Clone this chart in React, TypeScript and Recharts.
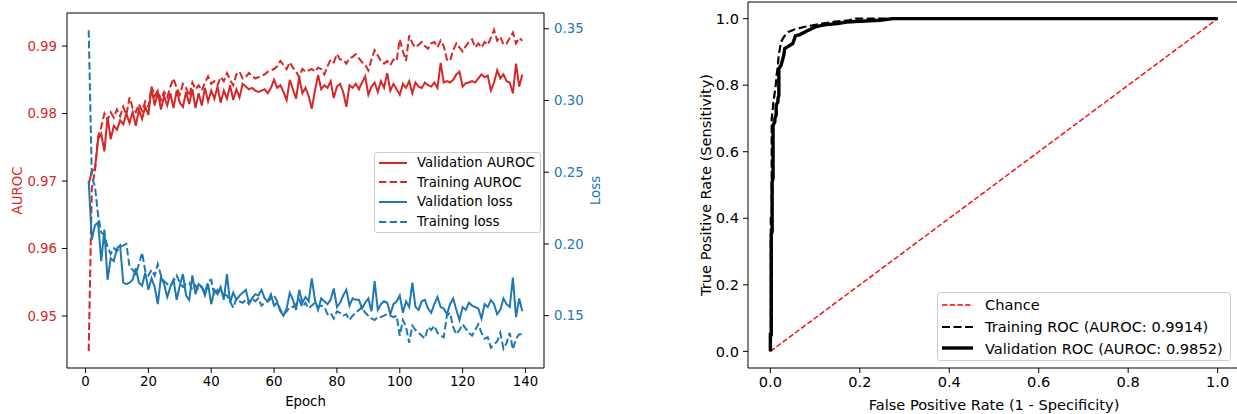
import React from "react";
import { LineChart, Line, XAxis, YAxis, Legend, ReferenceLine } from "recharts";

const RED = "#d62728";
const BLUE = "#1f77b4";
const FONT = "'DejaVu Sans', sans-serif";

// epochs 1..139
const epochs = Array.from({ length: 139 }, (_, i) => i + 1);

const valAuroc = [
  0.9695, 0.9715, 0.9718, 0.9762, 0.977, 0.9744, 0.9795, 0.9762, 0.9782, 0.9776,
  0.979, 0.9784, 0.98, 0.9786, 0.9802, 0.9782, 0.9806, 0.9792, 0.981, 0.9798,
  0.9838, 0.9812, 0.9832, 0.9806, 0.9826, 0.9812, 0.983, 0.9808, 0.9834, 0.9816,
  0.981, 0.9832, 0.9814, 0.9836, 0.9808, 0.983, 0.9812, 0.9838, 0.9818, 0.9834,
  0.9822, 0.984, 0.9816, 0.9834, 0.9822, 0.9842, 0.982, 0.9836, 0.9824, 0.9844,
  0.984, 0.9836, 0.9838, 0.9834, 0.9832, 0.9834, 0.9836, 0.983, 0.9838, 0.985,
  0.9838, 0.9842, 0.9832, 0.982, 0.985, 0.9836, 0.9822, 0.9854, 0.983, 0.9838,
  0.9826, 0.9807, 0.9834, 0.9857, 0.9836, 0.9842, 0.9838, 0.9848, 0.9823, 0.984,
  0.9844, 0.9832, 0.981, 0.9842, 0.9838, 0.9844, 0.9836, 0.9846, 0.9855, 0.9828,
  0.984, 0.9846, 0.9832, 0.9848, 0.9838, 0.986, 0.9834, 0.9844, 0.9836, 0.9828,
  0.9844, 0.9838, 0.9848, 0.983, 0.9846, 0.984, 0.9838, 0.9846, 0.9842, 0.984,
  0.9846, 0.9838, 0.9875, 0.9846, 0.9848, 0.9846, 0.985, 0.9858, 0.9862, 0.984,
  0.9845, 0.9846, 0.9848, 0.9846, 0.9852, 0.9858, 0.9854, 0.9856, 0.9834, 0.9846,
  0.9864, 0.9852, 0.9858, 0.9848, 0.9846, 0.983, 0.9874, 0.984, 0.9858,
];

const trainAuroc = [
  0.9448, 0.969, 0.9715, 0.9766, 0.978, 0.98, 0.979, 0.9802, 0.9794, 0.9806,
  0.9796, 0.981, 0.9798, 0.9824, 0.9808, 0.9802, 0.9814, 0.9804, 0.9818, 0.981,
  0.984, 0.9826, 0.9834, 0.982, 0.9832, 0.9824, 0.984, 0.9852, 0.9838, 0.9828,
  0.9844, 0.9838, 0.9826, 0.9846, 0.9836, 0.9842, 0.9834, 0.9846, 0.9855, 0.9844,
  0.9848, 0.9842, 0.9854, 0.9848, 0.986, 0.985, 0.9842, 0.9858, 0.9862, 0.9852,
  0.9854, 0.986, 0.9856, 0.9852, 0.9854, 0.9856, 0.9858, 0.9862, 0.9864, 0.9866,
  0.987, 0.9878, 0.9872, 0.9866, 0.9876, 0.9868, 0.9862, 0.9854, 0.9866, 0.9862,
  0.9864, 0.9866, 0.9862, 0.9868, 0.9866, 0.9858, 0.987, 0.988, 0.9876, 0.9888,
  0.988, 0.988, 0.9874, 0.9882, 0.9884, 0.9888, 0.9882, 0.9876, 0.9872, 0.9864,
  0.988, 0.9894, 0.9886, 0.9878, 0.9874, 0.9878, 0.9872, 0.988, 0.9878, 0.991,
  0.9892, 0.9878, 0.9916, 0.9904, 0.9898, 0.9902, 0.9906, 0.99, 0.9896, 0.9904,
  0.9906, 0.9898, 0.9908, 0.99, 0.988, 0.9878, 0.9894, 0.9904, 0.9898, 0.9892,
  0.99, 0.9906, 0.991, 0.9898, 0.9904, 0.9898, 0.9906, 0.9902, 0.9912, 0.9924,
  0.9908, 0.9914, 0.9902, 0.9904, 0.9912, 0.992, 0.9904, 0.9912, 0.9908,
];

const valLoss = [
  0.244, 0.203, 0.213, 0.215, 0.188, 0.21, 0.175, 0.19, 0.188, 0.197,
  0.199, 0.173, 0.172, 0.173, 0.175, 0.183, 0.173, 0.171, 0.18, 0.168,
  0.176, 0.17, 0.158, 0.177, 0.172, 0.163, 0.17, 0.175, 0.161, 0.171,
  0.179, 0.164, 0.161, 0.178, 0.165, 0.172, 0.17, 0.164, 0.172, 0.158,
  0.168, 0.165, 0.17, 0.161, 0.179, 0.159, 0.166, 0.161, 0.164, 0.166,
  0.168, 0.159, 0.162, 0.165, 0.164, 0.168, 0.162, 0.16, 0.165, 0.157,
  0.159, 0.153, 0.15, 0.155, 0.166, 0.161, 0.154, 0.168, 0.159, 0.163,
  0.16, 0.176, 0.161, 0.154, 0.162, 0.16, 0.158, 0.161, 0.169, 0.156,
  0.159, 0.164, 0.168, 0.157, 0.162, 0.161, 0.161, 0.155, 0.159, 0.162,
  0.153, 0.174, 0.154, 0.158, 0.16, 0.159, 0.151, 0.158, 0.16, 0.164,
  0.152, 0.16, 0.156, 0.173, 0.156, 0.154, 0.16, 0.161, 0.155, 0.152,
  0.158, 0.163, 0.156, 0.155, 0.151, 0.158, 0.162, 0.154, 0.147, 0.156,
  0.154, 0.159, 0.157, 0.156, 0.155, 0.148, 0.158, 0.156, 0.161, 0.158,
  0.151, 0.154, 0.162, 0.158, 0.156, 0.1765, 0.149, 0.162, 0.153,
];

const trainLoss = [
  0.349, 0.247, 0.24, 0.22, 0.208, 0.206, 0.198, 0.193, 0.197, 0.195,
  0.198, 0.199, 0.2, 0.184, 0.182, 0.179, 0.186, 0.194, 0.181, 0.178,
  0.182, 0.178, 0.186, 0.178, 0.174, 0.172, 0.171, 0.174, 0.178, 0.173,
  0.17, 0.172, 0.173, 0.168, 0.171, 0.168, 0.17, 0.166, 0.174, 0.175,
  0.164, 0.168, 0.166, 0.165, 0.164, 0.16, 0.1555, 0.162, 0.16, 0.159,
  0.161, 0.158, 0.162, 0.16, 0.162, 0.157, 0.159, 0.16, 0.162, 0.164,
  0.16, 0.154, 0.151, 0.153, 0.156, 0.156, 0.158, 0.161, 0.156, 0.159,
  0.155, 0.157, 0.159, 0.156, 0.157, 0.156, 0.151, 0.152, 0.148, 0.153,
  0.152, 0.15, 0.151, 0.147, 0.15, 0.152, 0.154, 0.156, 0.152, 0.15,
  0.148, 0.147, 0.149, 0.149, 0.15, 0.151, 0.15, 0.149, 0.15, 0.136,
  0.147, 0.142, 0.131, 0.143, 0.14, 0.138, 0.136, 0.134, 0.142, 0.14,
  0.143, 0.138, 0.136, 0.135, 0.15, 0.152, 0.142, 0.137, 0.14, 0.144,
  0.141, 0.138, 0.136, 0.14, 0.144, 0.138, 0.134, 0.135, 0.1276, 0.13,
  0.132, 0.138, 0.127, 0.131, 0.138, 0.1264, 0.134, 0.137, 0.137,
];

const epochTicks = [0, 20, 40, 60, 80, 100, 120, 140];
const aurocTicks = [0.95, 0.96, 0.97, 0.98, 0.99];
const lossTicks = [0.15, 0.2, 0.25, 0.3, 0.35];
const epochDomain = [-5.9, 145.9];
const aurocDomain = [0.9423, 0.9949];
const lossDomain = [0.1135, 0.361];

// ROC curves
const trainFpr = [0, 0, 0.001, 0.001, 0.003, 0.003, 0.005, 0.006, 0.008, 0.01, 0.012, 0.014, 0.016, 0.018, 0.02, 0.024, 0.03, 0.04, 0.055, 0.075, 0.095, 0.115, 0.14, 0.175, 0.19, 1.0];
const trainTpr = [0, 0.05, 0.06, 0.4, 0.42, 0.7, 0.72, 0.74, 0.76, 0.78, 0.8, 0.83, 0.85, 0.88, 0.9, 0.93, 0.945, 0.96, 0.968, 0.975, 0.98, 0.985, 0.99, 0.995, 1.0, 1.0];
const valFpr = [0, 0, 0.002, 0.002, 0.004, 0.004, 0.006, 0.006, 0.01, 0.01, 0.013, 0.013, 0.017, 0.017, 0.019, 0.019, 0.024, 0.026, 0.03, 0.032, 0.038, 0.044, 0.05, 0.054, 0.056, 0.066, 0.075, 0.08, 0.09, 0.1, 0.11, 0.125, 0.15, 0.17, 0.2, 0.245, 0.275, 1.0];
const valTpr = [0, 0.05, 0.05, 0.35, 0.36, 0.51, 0.52, 0.68, 0.69, 0.7, 0.71, 0.74, 0.75, 0.76, 0.77, 0.85, 0.86, 0.87, 0.89, 0.91, 0.915, 0.92, 0.925, 0.94, 0.948, 0.952, 0.958, 0.962, 0.968, 0.975, 0.978, 0.982, 0.985, 0.99, 0.992, 0.995, 1.0, 1.0];
const chanceFpr = [0, 1];
const chanceTpr = [0, 1];
const rateTicks = [0, 0.2, 0.4, 0.6, 0.8, 1.0];
const rateDomain = [-0.05, 1.05];

const historyData = epochs.map((epoch, i) => ({
  epoch,
  valAuroc: valAuroc[i],
  trainAuroc: trainAuroc[i],
  valLoss: valLoss[i],
  trainLoss: trainLoss[i],
}));
const zip = (fpr: number[], tpr: number[]) => fpr.map((f, i) => ({ fpr: f, tpr: tpr[i] }));
const trainRoc = zip(trainFpr, trainTpr);
const valRoc = zip(valFpr, valTpr);
const chanceRoc = zip(chanceFpr, chanceTpr);

function VTitle(props: any) {
  const { viewBox, text, color, dx, size } = props;
  const cx = viewBox.x + dx;
  const cy = viewBox.y + viewBox.height / 2;
  return (
    <text x={cx} y={cy} transform={`rotate(-90 ${cx} ${cy})`} textAnchor="middle"
      dominantBaseline="central" fill={color} fontSize={size} fontFamily={FONT}>
      {text}
    </text>
  );
}

function HTitle(props: any) {
  const { viewBox, text, dy, size } = props;
  const cx = viewBox.x + viewBox.width / 2;
  return (
    <text x={cx} y={viewBox.y + dy} textAnchor="middle" dominantBaseline="central"
      fill="#000" fontSize={size} fontFamily={FONT}>
      {text}
    </text>
  );
}

type Item = { label: string; color: string; width: number; dash?: string };

function LegendBox({ items, w, h, rowH, sample, gap, size, padTop }: any) {
  return (
    <div style={{
      width: w, height: h, boxSizing: "border-box", border: "1px solid #cccccc",
      borderRadius: 3, background: "rgba(255,255,255,0.8)", padding: `${padTop}px 0 0 4px`,
      fontFamily: FONT, fontSize: size, color: "#000",
    }}>
      {items.map((it: Item) => (
        <div key={it.label} style={{ display: "flex", alignItems: "center", height: rowH, whiteSpace: "nowrap" }}>
          <svg width={sample} height={10} style={{ marginRight: gap, flex: "none" }}>
            <line x1={0} y1={5} x2={sample} y2={5} stroke={it.color} strokeWidth={it.width}
              strokeDasharray={it.dash} />
          </svg>
          <span>{it.label}</span>
        </div>
      ))}
    </div>
  );
}

const historyLegend: Item[] = [
  { label: "Validation AUROC", color: RED, width: 2 },
  { label: "Training AUROC", color: RED, width: 2, dash: "7.4 3.2" },
  { label: "Validation loss", color: BLUE, width: 2 },
  { label: "Training loss", color: BLUE, width: 2, dash: "7.4 3.2" },
];

const rocLegend: Item[] = [
  { label: "Chance", color: "#ff0000", width: 1.4, dash: "5.4 2.3" },
  { label: "Training ROC (AUROC: 0.9914)", color: "#000", width: 2.2, dash: "8 3.5" },
  { label: "Validation ROC (AUROC: 0.9852)", color: "#000", width: 3.4 },
];

export default function App() {
  const s1 = 13.3;
  const s2 = 14.6;
  return (
    <div style={{ position: "absolute", left: 0, top: 0, width: 1237, height: 414, overflow: "hidden", background: "#fff" }}>
      <div style={{ position: "absolute", left: 0, top: 0 }}>
        <LineChart width={620} height={414} data={historyData} margin={{ top: 13, right: 0, bottom: 16, left: 0 }}>
          <XAxis dataKey="epoch" type="number" domain={epochDomain} ticks={epochTicks} height={30}
            tickSize={5} tickMargin={4} stroke="#000" tick={{ fill: "#000", fontSize: s1, fontFamily: FONT }}
            label={<HTitle text="Epoch" dy={33} size={s1} />} />
          <YAxis yAxisId="auc" type="number" domain={aurocDomain} ticks={aurocTicks} width={67}
            tickFormatter={(v: number) => v.toFixed(2)} tickSize={5} tickMargin={5} stroke="#000"
            tick={{ fill: RED, fontSize: s1, fontFamily: FONT }}
            label={<VTitle text="AUROC" color={RED} dx={17} size={s1} />} />
          <YAxis yAxisId="loss" orientation="right" type="number" domain={lossDomain} ticks={lossTicks} width={76}
            tickFormatter={(v: number) => v.toFixed(2)} tickSize={5} tickMargin={5} stroke="#000"
            tick={{ fill: BLUE, fontSize: s1, fontFamily: FONT }}
            label={<VTitle text="Loss" color={BLUE} dx={51} size={s1} />} />
          <ReferenceLine yAxisId="auc" y={aurocDomain[1]} stroke="#000" strokeWidth={1} />
          <Line yAxisId="auc" dataKey="valAuroc" stroke={RED} strokeWidth={2} dot={false} activeDot={false} isAnimationActive={false} />
          <Line yAxisId="auc" dataKey="trainAuroc" stroke={RED} strokeWidth={2} strokeDasharray="7.4 3.2" dot={false} activeDot={false} isAnimationActive={false} />
          <Line yAxisId="loss" dataKey="valLoss" stroke={BLUE} strokeWidth={2} dot={false} activeDot={false} isAnimationActive={false} />
          <Line yAxisId="loss" dataKey="trainLoss" stroke={BLUE} strokeWidth={2} strokeDasharray="7.4 3.2" dot={false} activeDot={false} isAnimationActive={false} />
          <Legend verticalAlign="middle" align="center" wrapperStyle={{ left: 374, top: 152, width: 167, height: 81 }}
            content={() => <LegendBox items={historyLegend} w={167} h={81} rowH={19.6} sample={28} gap={10} size={s1} padTop={0} />} />
        </LineChart>
      </div>
      <div style={{ position: "absolute", left: 640, top: 0 }}>
        <LineChart width={600} height={414} margin={{ top: 2, right: 0, bottom: 16, left: 0 }}>
          <XAxis dataKey="fpr" type="number" domain={rateDomain} ticks={rateTicks} height={30}
            tickFormatter={(v: number) => v.toFixed(1)} tickSize={5} tickMargin={4} stroke="#000"
            tick={{ fill: "#000", fontSize: s2, fontFamily: FONT }}
            label={<HTitle text="False Positive Rate (1 - Specificity)" dy={36} size={s2} />} />
          <YAxis type="number" dataKey="tpr" domain={rateDomain} ticks={rateTicks} width={108}
            tickFormatter={(v: number) => v.toFixed(1)} tickSize={5} tickMargin={4} stroke="#000"
            tick={{ fill: "#000", fontSize: s2, fontFamily: FONT }}
            label={<VTitle text="True Positive Rate (Sensitivity)" color="#000" dx={65} size={s2} />} />
          <ReferenceLine y={rateDomain[1]} stroke="#000" strokeWidth={1} />
          <Line data={chanceRoc} dataKey="tpr" stroke="#ff0000" strokeWidth={1.4} strokeDasharray="5.4 2.3" dot={false} activeDot={false} isAnimationActive={false} />
          <Line data={trainRoc} dataKey="tpr" stroke="#000" strokeWidth={2.2} strokeDasharray="8 3.5" dot={false} activeDot={false} isAnimationActive={false} />
          <Line data={valRoc} dataKey="tpr" stroke="#000" strokeWidth={3.4} dot={false} activeDot={false} isAnimationActive={false} />
          <Legend verticalAlign="middle" align="center" wrapperStyle={{ left: 297, top: 292, width: 294, height: 69 }}
            content={() => <LegendBox items={rocLegend} w={294} h={69} rowH={21.7} sample={31} gap={12} size={s2} padTop={1} />} />
        </LineChart>
      </div>
    </div>
  );
}
